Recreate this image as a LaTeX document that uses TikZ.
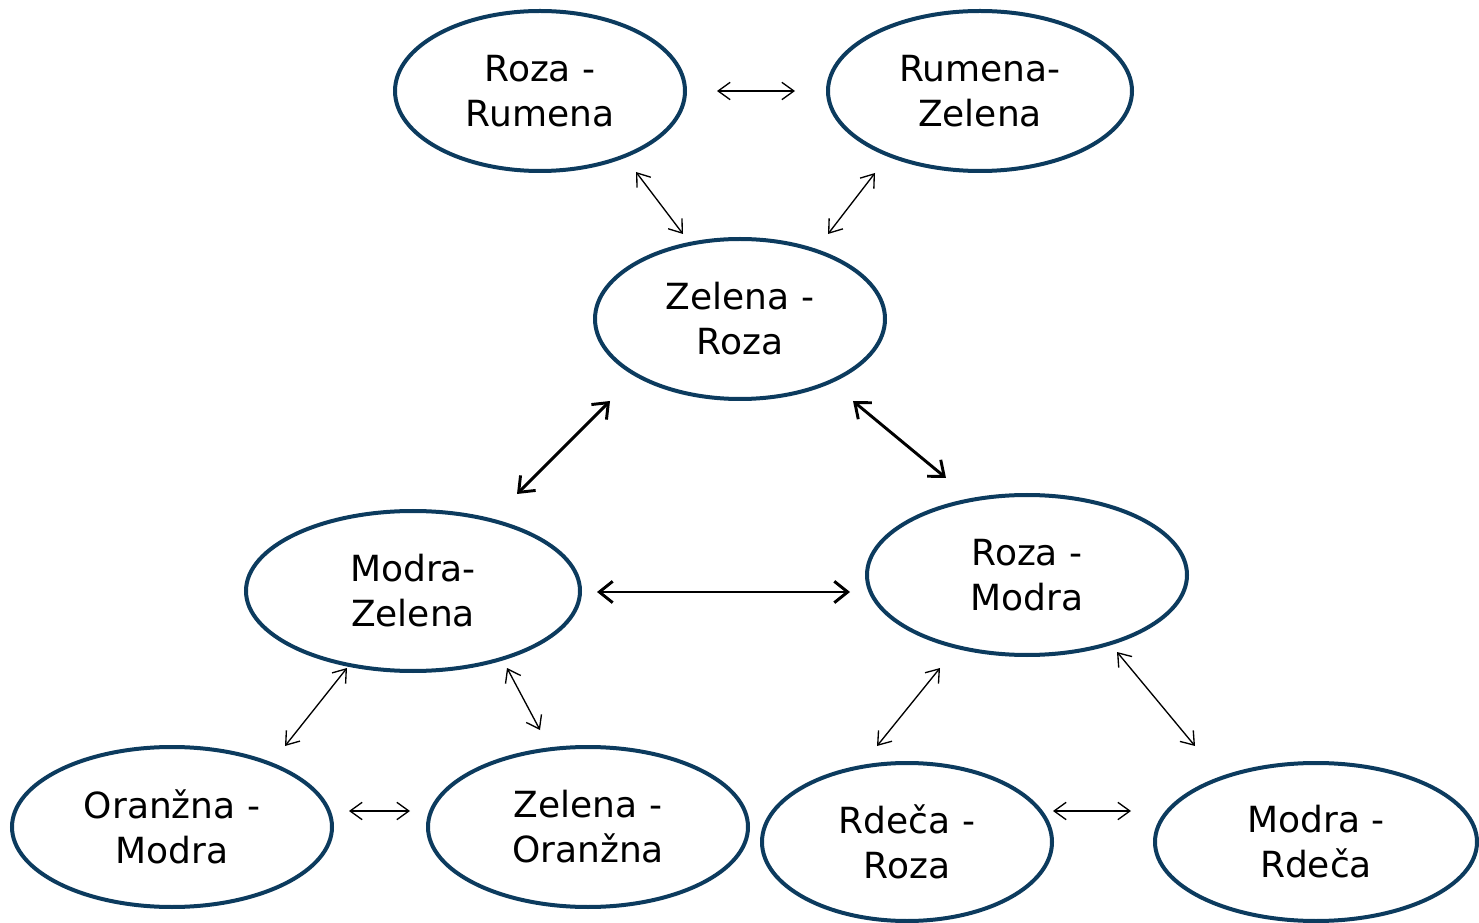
\documentclass[tikz,border=0pt]{standalone}
\usepackage{fontspec}
\setmainfont{DejaVu Sans}
\usetikzlibrary{shapes.geometric,arrows.meta}
\definecolor{eblue}{RGB}{12,59,94}
\begin{document}
\begin{tikzpicture}[x=0.75pt,y=-0.75pt,
  ell/.style={ellipse,draw=eblue,line width=3pt,inner sep=0pt,align=center,
    font=\fontsize{27}{33.75}\selectfont},
  thin/.style={line width=1pt,{Straight Barb[length=9pt,width=13pt]}-{Straight Barb[length=9pt,width=13pt]}},
  thick/.style={line width=2.2pt,{Straight Barb[length=10pt,width=16pt]}-{Straight Barb[length=10pt,width=16pt]}}]
\useasboundingbox (0,0) rectangle (1479,923);
\newcommand{\ellnode}[6]{\node[ell,minimum width=#4*1.5pt,minimum height=#5*1.5pt] (#1) at (#2,#3) {#6};}
\ellnode{n1}{540}{91}{145}{80}{Roza -\\Rumena}
\ellnode{n2}{980}{91}{152}{80}{Rumena-\\Zelena}
\ellnode{n3}{740}{319}{145}{80}{Zelena -\\Roza}
\ellnode{n4}{413}{591}{167}{80}{Modra-\\Zelena}
\ellnode{n5}{1027}{575}{160}{80}{Roza -\\Modra}
\ellnode{n6}{172}{827}{160}{80}{Oranžna -\\Modra}
\ellnode{n7}{588}{827}{160}{80}{Zelena -\\Oranžna}
\ellnode{n8}{907}{842}{145}{79}{Rdeča -\\Roza}
\ellnode{n9}{1316}{842}{161}{79}{Modra -\\Rdeča}
% connector end points
\coordinate (a12) at (717,91);   \coordinate (b12) at (795,91);
\coordinate (a13) at (636,172);  \coordinate (b13) at (683,234);
\coordinate (a23) at (875,173);  \coordinate (b23) at (828,234);
\coordinate (a34) at (610,401);  \coordinate (b34) at (517,494);
\coordinate (a35) at (853,401);  \coordinate (b35) at (946,478);
\coordinate (a45) at (597,592);  \coordinate (b45) at (850,592);
\coordinate (a46) at (347,668);  \coordinate (b46) at (285,746);
\coordinate (a47) at (507,668);  \coordinate (b47) at (540,730);
\coordinate (a67) at (349,811);  \coordinate (b67) at (410,811);
\coordinate (a58) at (940,668);  \coordinate (b58) at (877,746);
\coordinate (a59) at (1117,652); \coordinate (b59) at (1195,746);
\coordinate (a89) at (1053,811); \coordinate (b89) at (1131,811);
\draw[thin] (a12) -- (b12);
\draw[thin] (a13) -- (b13);
\draw[thin] (a23) -- (b23);
\draw[thick] (a34) -- (b34);
\draw[thick] (a35) -- (b35);
\draw[thick] (a45) -- (b45);
\draw[thin] (a46) -- (b46);
\draw[thin] (a47) -- (b47);
\draw[thin] (a67) -- (b67);
\draw[thin] (a58) -- (b58);
\draw[thin] (a59) -- (b59);
\draw[thin] (a89) -- (b89);
\end{tikzpicture}
\end{document}
